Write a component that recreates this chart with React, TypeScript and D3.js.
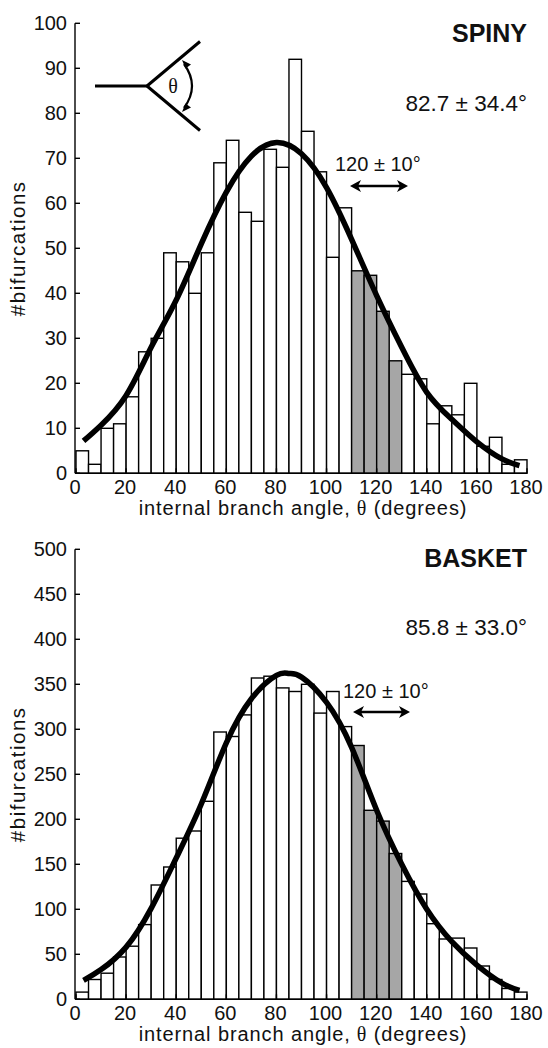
import React from "react";
import * as d3 from "d3";

// ---------- data ----------
const BIN_STARTS = [0, 5, 10, 15, 20, 25, 30, 35, 40, 45, 50, 55, 60, 65, 70, 75, 80, 85, 90, 95, 100, 105, 110, 115, 120, 125, 130, 135, 140, 145, 150, 155, 160, 165, 170, 175];
const BIN_WIDTH = 5;
const SPINY_COUNTS = [5, 2, 10, 11, 17, 27, 30, 49, 47, 40, 49, 69, 74, 58, 56, 72, 68, 92, 76, 67, 48, 59, 45, 44, 36, 25, 22, 21, 11, 15, 13, 20, 6, 8, 2, 3];
const BASKET_COUNTS = [8, 22, 29, 47, 59, 83, 127, 147, 179, 187, 220, 297, 292, 316, 357, 359, 346, 342, 350, 318, 342, 303, 282, 210, 198, 162, 131, 117, 84, 67, 68, 57, 37, 22, 12, 8];

const SPINY_FIT_X = [3, 10, 20, 30, 40, 50, 60, 70, 80, 90, 100, 110, 120, 130, 140, 150, 160, 170, 177];
const SPINY_FIT_Y = [7.2, 10.7, 17.3, 28, 38.5, 51, 62.5, 70.5, 73.5, 71, 63.5, 52, 39.5, 28, 18, 12, 7, 3.2, 1.7];
const BASKET_FIT_X = [3, 10, 20, 30, 40, 50, 60, 70, 80, 85, 90, 100, 110, 120, 130, 140, 150, 160, 170, 177];
const BASKET_FIT_Y = [21, 33, 58, 101, 157, 217, 285, 334, 360, 362, 358, 330, 280, 210, 150, 100, 64, 38, 18, 10];

const X_TICKS = [0, 20, 40, 60, 80, 100, 120, 140, 160, 180];
const SPINY_Y_TICKS = [0, 10, 20, 30, 40, 50, 60, 70, 80, 90, 100];
const BASKET_Y_TICKS = [0, 50, 100, 150, 200, 250, 300, 350, 400, 450, 500];
const HIGHLIGHT = [110, 130];

const FONT = "'Liberation Sans', Arial, Helvetica, sans-serif";
const SERIF = "'Liberation Serif', 'DejaVu Serif', serif";

type PanelProps = {
  counts: number[];
  fitX: number[];
  fitY: number[];
  yTicks: number[];
  yMax: number;
  yTop: number;
  yBottom: number;
  title: string;
  stats: string;
  titleY: number;
  statsY: number;
  rangeTextX: number;
  rangeTextY: number;
  arrowX1: number;
  arrowX2: number;
  arrowY: number;
  inset?: boolean;
};

function DoubleArrow({ x1, x2, y }: { x1: number; x2: number; y: number }) {
  const h = 11;
  const w = 6;
  return (
    <g>
      <line x1={x1 + 6} x2={x2 - 6} y1={y} y2={y} stroke="#000" strokeWidth={2.5} />
      <path d={`M${x1},${y} L${x1 + h},${y - w} L${x1 + h - 3},${y} L${x1 + h},${y + w} Z`} fill="#000" />
      <path d={`M${x2},${y} L${x2 - h},${y - w} L${x2 - h + 3},${y} L${x2 - h},${y + w} Z`} fill="#000" />
    </g>
  );
}

function Panel(p: PanelProps) {
  const x = d3.scaleLinear().domain([0, 180]).range([76, 527]);
  const y = d3.scaleLinear().domain([0, p.yMax]).range([p.yBottom, p.yTop]);
  const axisX = 75;
  const pts: [number, number][] = p.fitX.map((v, i) => [v, p.fitY[i]]);
  const line = d3
    .line<[number, number]>()
    .x((d) => x(d[0]))
    .y((d) => y(d[1]))
    .curve(d3.curveNatural);
  return (
    <g fontFamily={FONT}>
      {/* bars */}
      {BIN_STARTS.map((b, i) => {
        const inHi = b >= HIGHLIGHT[0] && b + BIN_WIDTH <= HIGHLIGHT[1];
        return (
          <rect
            key={i}
            x={x(b)}
            y={y(p.counts[i])}
            width={x(b + BIN_WIDTH) - x(b)}
            height={y(0) - y(p.counts[i])}
            fill={inHi ? "#a6a6a6" : "#fff"}
            stroke="#000"
            strokeWidth={1.4}
          />
        );
      })}
      {/* fit curve */}
      <path d={line(pts) || ""} fill="none" stroke="#000" strokeWidth={5.5} strokeLinecap="butt" />
      {/* axes */}
      <line x1={axisX} x2={axisX} y1={p.yTop} y2={p.yBottom} stroke="#000" strokeWidth={1.4} />
      <line x1={axisX} x2={x(180)} y1={p.yBottom} y2={p.yBottom} stroke="#000" strokeWidth={1.4} />
      {p.yTicks.map((t) => (
        <g key={t}>
          <line x1={axisX} x2={axisX + 5} y1={y(t)} y2={y(t)} stroke="#000" strokeWidth={1.4} />
          <text x={67} y={y(t)} dy="0.35em" textAnchor="end" fontSize={20} fill="#111">
            {t}
          </text>
        </g>
      ))}
      {X_TICKS.map((t) => (
        <g key={t}>
          <line x1={x(t)} x2={x(t)} y1={p.yBottom} y2={p.yBottom - 5} stroke="#000" strokeWidth={1.4} />
          <text x={x(t) - 1} y={p.yBottom + 20.5} textAnchor="middle" fontSize={20} fill="#111">
            {t}
          </text>
        </g>
      ))}
      {/* axis titles */}
      <text x={303} y={p.yBottom + 42} textAnchor="middle" fontSize={20} fill="#111" letterSpacing={0.9}>
        internal branch angle,
        <tspan fontFamily={SERIF}> θ</tspan> (degrees)
      </text>
      <text
        transform={`translate(25,${(p.yTop + p.yBottom) / 2}) rotate(-90)`}
        textAnchor="middle"
        fontSize={20.5}
        fill="#111"
        letterSpacing={1.5}
      >
        #bifurcations
      </text>
      {/* labels */}
      <text x={527} y={p.titleY} textAnchor="end" fontSize={25} fontWeight="bold" fill="#111">
        {p.title}
      </text>
      <text x={527} y={p.statsY} textAnchor="end" fontSize={22.5} fill="#111">
        {p.stats}
      </text>
      <text x={p.rangeTextX} y={p.rangeTextY} fontSize={20} fill="#111">
        120 ± 10°
      </text>
      <DoubleArrow x1={p.arrowX1} x2={p.arrowX2} y={p.arrowY} />
      {p.inset && (
        <g>
          <line x1={95} y1={86} x2={148} y2={86} stroke="#000" strokeWidth={3} />
          <line x1={147} y1={86} x2={200} y2={41.5} stroke="#000" strokeWidth={3} />
          <line x1={147} y1={86} x2={200} y2={130.5} stroke="#000" strokeWidth={3} />
          <text x={173} y={93} textAnchor="middle" fontSize={20} fontFamily={SERIF} fill="#111">
            θ
          </text>
          <path d="M184,64 Q200,86 184,108" fill="none" stroke="#000" strokeWidth={2.2} />
          <path d="M182,60 L191,64.5 L185.5,68.5 Z" fill="#000" />
          <path d="M182,112 L191,107.5 L185.5,103.5 Z" fill="#000" />
        </g>
      )}
    </g>
  );
}

export default function App() {
  return (
    <div style={{ position: "absolute", left: 0, top: 0 }}>
      <svg width={548} height={1048} viewBox="0 0 548 1048" style={{ display: "block", background: "#fff" }}>
        <Panel
          counts={SPINY_COUNTS}
          fitX={SPINY_FIT_X}
          fitY={SPINY_FIT_Y}
          yTicks={SPINY_Y_TICKS}
          yMax={100}
          yTop={23.3}
          yBottom={473.3}
          title="SPINY"
          stats="82.7 ± 34.4°"
          titleY={41.5}
          statsY={110.5}
          rangeTextX={335}
          rangeTextY={170.5}
          arrowX1={350}
          arrowX2={408}
          arrowY={186}
          inset
        />
        <Panel
          counts={BASKET_COUNTS}
          fitX={BASKET_FIT_X}
          fitY={BASKET_FIT_Y}
          yTicks={BASKET_Y_TICKS}
          yMax={500}
          yTop={549.3}
          yBottom={999.3}
          title="BASKET"
          stats="85.8 ± 33.0°"
          titleY={567}
          statsY={635}
          rangeTextX={343}
          rangeTextY={698}
          arrowX1={353}
          arrowX2={410}
          arrowY={712}
        />
      </svg>
    </div>
  );
}
